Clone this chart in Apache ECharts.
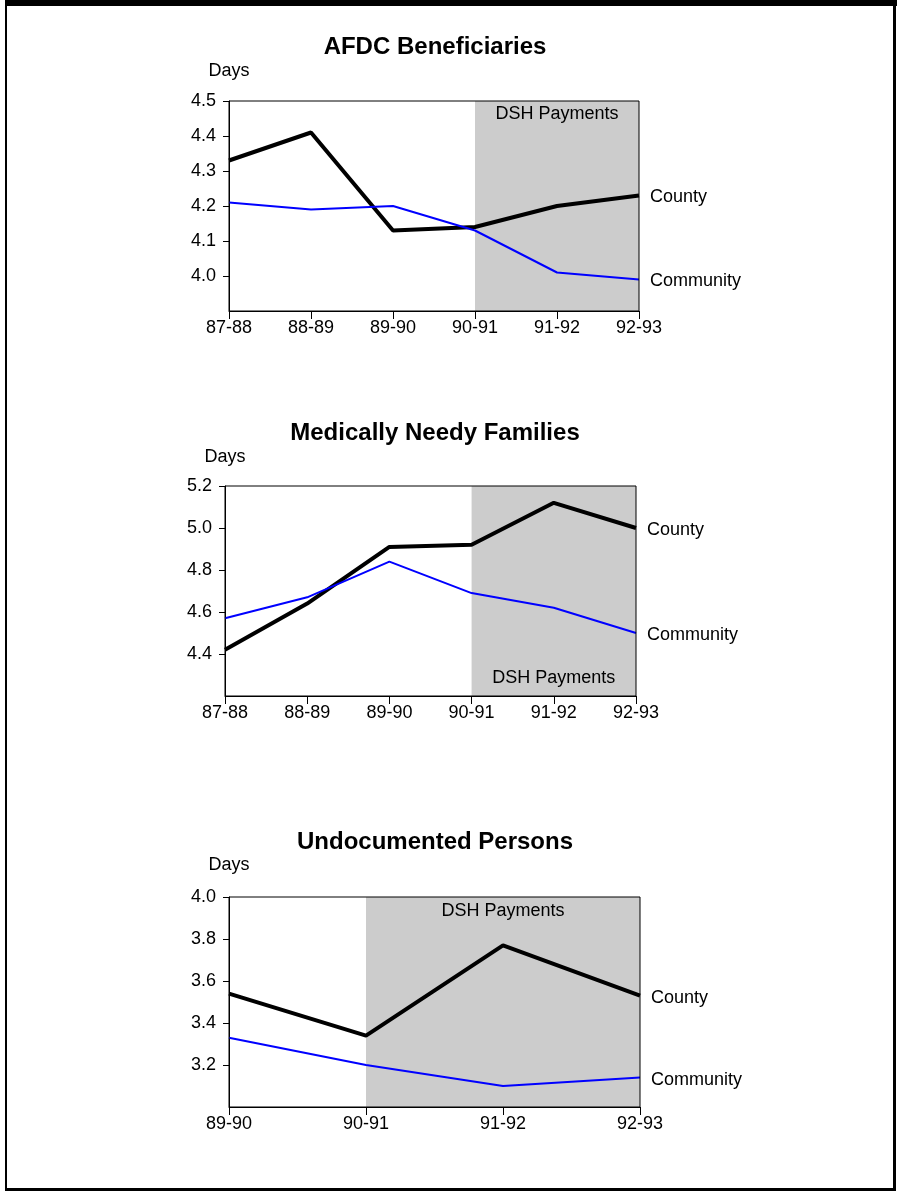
<!DOCTYPE html>
<html>
<head>
<meta charset="utf-8">
<script src="https://cdn.jsdelivr.net/npm/echarts@6/dist/echarts.min.js"></script>
<style>
  html, body { margin: 0; padding: 0; background: #fff; }
  #chart { width: 899px; height: 1192px; }
</style>
</head>
<body>
<div id="chart"></div>
<script>
// 年度分类
var afdcYears = ['87-88', '88-89', '89-90', '90-91', '91-92', '92-93'];
var mnfYears = ['87-88', '88-89', '89-90', '90-91', '91-92', '92-93'];
var udpYears = ['89-90', '90-91', '91-92', '92-93'];

// 住院天数
var afdcCounty = [4.33, 4.41, 4.13, 4.14, 4.20, 4.23];
var afdcCommunity = [4.21, 4.19, 4.20, 4.13, 4.01, 3.99];
var mnfCounty = [4.42, 4.64, 4.91, 4.92, 5.12, 5.00];
var mnfCommunity = [4.57, 4.67, 4.84, 4.69, 4.62, 4.50];
var udpCounty = [3.54, 3.34, 3.77, 3.53];
var udpCommunity = [3.33, 3.20, 3.10, 3.14];

// 图标题 / DSH 起止年
var chartTitles = ['AFDC Beneficiaries', 'Medically Needy Families', 'Undocumented Persons'];
var dshStart = '90-91';
var dshEnd = '92-93';

var FONT = "'Liberation Sans', Arial, sans-serif";

var panels = [
  { years: afdcYears, county: afdcCounty, community: afdcCommunity, min: 3.9, max: 4.5, step: 0.1,
    grid: { left: 229, top: 101, width: 410, height: 210 }, dshPos: 'insideTop', dshDist: 4, nameGap: 21, titleY: 47 },
  { years: mnfYears, county: mnfCounty, community: mnfCommunity, min: 4.2, max: 5.2, step: 0.2,
    grid: { left: 225, top: 486, width: 411, height: 210 }, dshPos: 'insideBottom', dshDist: 9, nameGap: 20, titleY: 433 },
  { years: udpYears, county: udpCounty, community: udpCommunity, min: 3.0, max: 4.0, step: 0.2,
    grid: { left: 229, top: 897, width: 411, height: 210 }, dshPos: 'insideTop', dshDist: 5, nameGap: 23, titleY: 842 }
];

var chartIns = echarts.init(document.getElementById('chart'));

var option = {
  animation: false,
  textStyle: { fontFamily: FONT },
  grid: panels.map(function (p) {
    return Object.assign({ show: true, z: 3, backgroundColor: 'transparent', borderColor: '#000', borderWidth: 1 }, p.grid);
  }),
  xAxis: panels.map(function (p, i) {
    return {
      type: 'category', gridIndex: i, data: p.years, boundaryGap: false,
      axisLine: { lineStyle: { color: '#000', width: 1 } },
      axisTick: { show: true, length: 8, lineStyle: { color: '#000' } },
      axisLabel: { color: '#000', fontSize: 18, margin: 8, fontFamily: FONT },
      splitLine: { show: false }
    };
  }),
  yAxis: panels.map(function (p, i) {
    return {
      type: 'value', gridIndex: i, min: p.min, max: p.max, interval: p.step,
      name: 'Days', nameLocation: 'end', nameGap: p.nameGap,
      nameTextStyle: { color: '#000', fontSize: 18, fontFamily: FONT, align: 'center' },
      axisLine: { show: true, lineStyle: { color: '#000', width: 1 } },
      axisTick: { show: true, length: 6, lineStyle: { color: '#000' } },
      axisLabel: { color: '#000', fontSize: 18, margin: 13, showMinLabel: false, fontFamily: FONT,
        formatter: function (v) { return v.toFixed(1); } },
      splitLine: { show: false }
    };
  }),
  series: [],
  graphic: []
};

panels.forEach(function (p, i) {
  option.series.push({
    name: 'County', type: 'line', xAxisIndex: i, yAxisIndex: i, data: p.county,
    symbol: 'none', lineStyle: { color: '#000', width: 4 }, z: 2,
    endLabel: { show: true, formatter: 'County', distance: 11, offset: [0, 2], color: '#000', fontSize: 18, fontFamily: FONT },
    markArea: {
      silent: true,
      itemStyle: { color: '#cccccc' },
      label: { show: true, position: p.dshPos, distance: p.dshDist, color: '#000', fontSize: 18, fontFamily: FONT },
      data: [[{ name: 'DSH Payments', xAxis: dshStart }, { xAxis: dshEnd }]]
    }
  });
  option.series.push({
    name: 'Community', type: 'line', xAxisIndex: i, yAxisIndex: i, data: p.community,
    symbol: 'none', lineStyle: { color: '#0000ff', width: 2 }, z: 2,
    endLabel: { show: true, formatter: 'Community', distance: 11, offset: [0, 2], color: '#000', fontSize: 18, fontFamily: FONT }
  });
  option.graphic.push({
    type: 'text', x: 435, y: p.titleY,
    style: { text: chartTitles[i], fill: '#000', font: 'bold 24px ' + FONT, textAlign: 'center', textVerticalAlign: 'middle' }
  });
});

/**外框 */
option.graphic.push(
  { type: 'rect', shape: { x: 6, y: 0, width: 891, height: 6 }, style: { fill: '#000' } },
  { type: 'rect', shape: { x: 5, y: 0, width: 2, height: 1191 }, style: { fill: '#000' } },
  { type: 'rect', shape: { x: 893, y: 0, width: 3, height: 1191 }, style: { fill: '#000' } },
  { type: 'rect', shape: { x: 5, y: 1188, width: 891, height: 3 }, style: { fill: '#000' } }
);

chartIns.setOption(option);
</script>
</body>
</html>
